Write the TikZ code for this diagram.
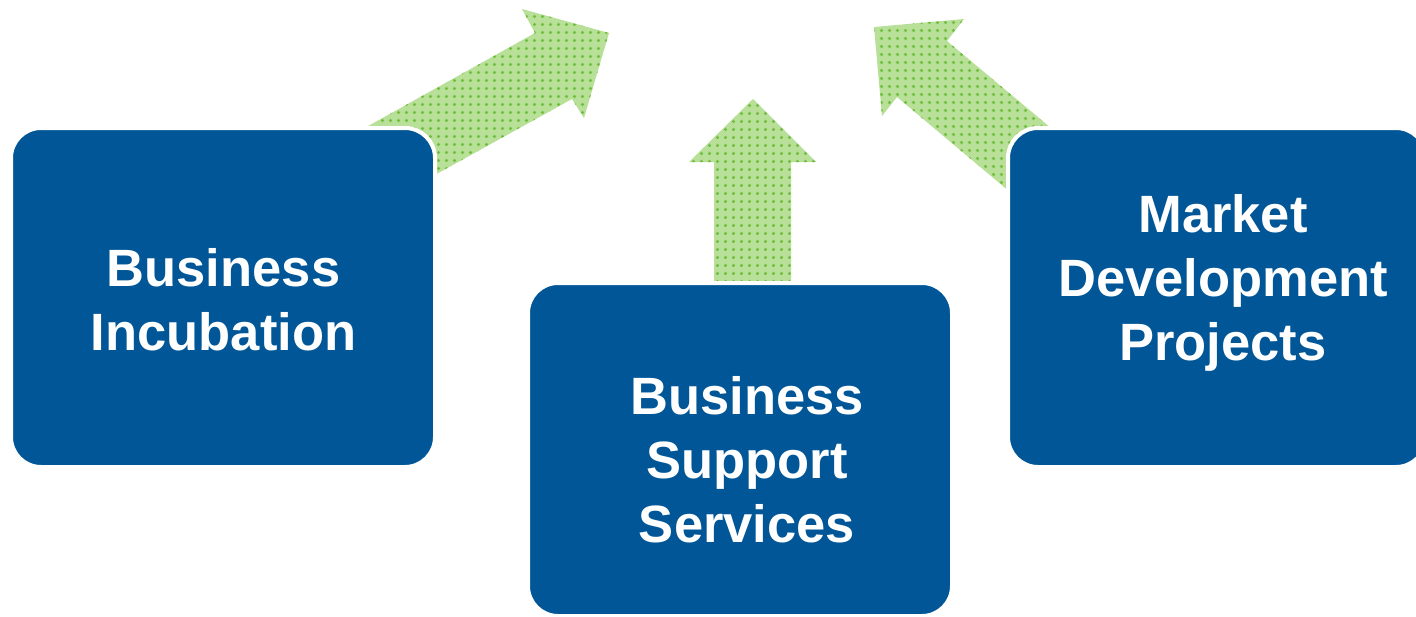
\documentclass[tikz,border=0pt]{standalone}
\usepackage{fontspec}
\setmainfont{Liberation Sans}
\usetikzlibrary{patterns.meta}

\definecolor{boxblue}{RGB}{0,86,150}
\definecolor{arrowgreen}{RGB}{184,224,152}
\definecolor{arrowdots}{RGB}{112,188,62}

% small plus signs repeated over the arrow bodies
\tikzdeclarepattern{
  name=plusgrid,
  type=uncolored,
  bounding box={(0pt,0pt) and (7.5pt,7.5pt)},
  tile size={(7.5pt,7.5pt)},
  code={
    \draw[line width=1.2pt] (2pt,3.75pt) -- (5.5pt,3.75pt)
                            (3.75pt,2pt) -- (3.75pt,5.5pt);
  }
}

\tikzset{
  bluebox/.style={draw=white, line width=4pt, fill=boxblue,
    rounded corners=30pt, inner sep=0pt},
  boxlabel/.style={text=white, align=center,
    font=\fontsize{52.5}{64}\selectfont\bfseries, inner sep=0pt},
  greenarrow/.style={fill=arrowgreen,
    postaction={pattern=plusgrid, pattern color=arrowdots}}
}

\begin{document}
\begin{tikzpicture}[x=1pt, y=-1pt]
  \useasboundingbox (0,0) rectangle (1416,616);
  \clip (0,0) rectangle (1416,616);

  % arrows, tails tucked behind the boxes
  \path[greenarrow] (318,154) -- (535,33) -- (522,9) -- (609,33)
    -- (584,118) -- (572,99) -- (386,202) -- cycle;
  \path[greenarrow] (714,300) -- (714,162) -- (689,162) -- (753,99)
    -- (816,162) -- (791,162) -- (791,300) -- cycle;
  \path[greenarrow] (1051,226.5) -- (897,97) -- (882,116) -- (874,27)
    -- (964,19) -- (947,41) -- (1091,161.5) -- cycle;

  % boxes
  \node[bluebox, minimum width=424pt, minimum height=339pt] (incubation) at (223,297.5) {};
  \node[bluebox, minimum width=424pt, minimum height=333pt] (support) at (740,449.5) {};
  \node[bluebox, minimum width=418pt, minimum height=339pt] (market) at (1217,297.5) {};

  % labels
  \node[boxlabel] (incubationtext) at (223.5,299.5) {Business\\Incubation};
  \node[boxlabel] (supporttext) at (747,459.5) {Business\\Support\\Services};
  \node[boxlabel] (markettext) at (1223,282.5) {Market\\Development\\Projects};
\end{tikzpicture}
\end{document}
